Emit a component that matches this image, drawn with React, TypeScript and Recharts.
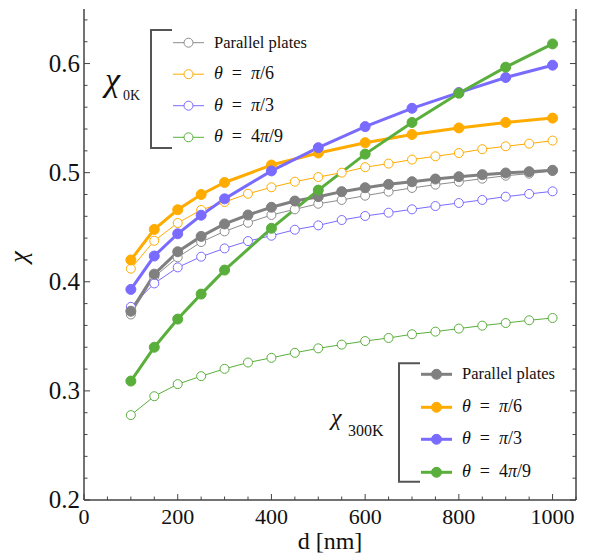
import React from 'react';
import { LineChart, Line, XAxis, YAxis } from 'recharts';

// distances (nm)
const dFine = [100, 150, 200, 250, 300, 350, 400, 450, 500, 550, 600, 650, 700, 750, 800, 850, 900, 950, 1000];
const dCoarse = [100, 150, 200, 250, 300, 400, 500, 600, 700, 800, 900, 1000];

// chi at 0 K (open markers)
const plates0K = [0.370, 0.4046, 0.4224, 0.4364, 0.4462, 0.4541, 0.4612, 0.4664, 0.4715, 0.475, 0.4789, 0.4826, 0.486, 0.489, 0.4917, 0.4945, 0.4972, 0.4991, 0.5016];
const pi6_0K = [0.412, 0.4376, 0.4539, 0.4658, 0.4731, 0.4807, 0.4866, 0.4917, 0.496, 0.500, 0.505, 0.5083, 0.512, 0.515, 0.518, 0.5215, 0.5242, 0.5266, 0.5294];
const pi3_0K = [0.377, 0.3985, 0.4132, 0.423, 0.4306, 0.4373, 0.4422, 0.4477, 0.4517, 0.4566, 0.4603, 0.4633, 0.4664, 0.4694, 0.4722, 0.475, 0.478, 0.4805, 0.4829];
const pi49_0K = [0.2778, 0.2951, 0.3062, 0.3135, 0.3202, 0.326, 0.3303, 0.3349, 0.339, 0.3424, 0.3457, 0.3485, 0.3519, 0.3543, 0.3571, 0.3598, 0.3622, 0.3647, 0.3668];

// chi at 300 K (filled markers)
const plates300K = [0.373, 0.407, 0.4275, 0.4416, 0.453, 0.4612, 0.4683, 0.474, 0.478, 0.4826, 0.4862, 0.4893, 0.4917, 0.4942, 0.4963, 0.4982, 0.4997, 0.5009, 0.5022];
const pi6_300K = [0.420, 0.448, 0.466, 0.480, 0.491, 0.507, 0.518, 0.5275, 0.535, 0.541, 0.546, 0.550];
const pi3_300K = [0.393, 0.4236, 0.444, 0.461, 0.476, 0.5016, 0.5229, 0.5422, 0.559, 0.5734, 0.5872, 0.5985];
const pi49_300K = [0.309, 0.340, 0.3658, 0.3887, 0.4107, 0.449, 0.484, 0.517, 0.546, 0.5728, 0.5967, 0.618];

const xTicks = [0, 50, 100, 150, 200, 250, 300, 350, 400, 450, 500, 550, 600, 650, 700, 750, 800, 850, 900, 950, 1000, 1050];
const xLabels = [0, 200, 400, 600, 800, 1000];
const yTicks = [0.2, 0.22, 0.24, 0.26, 0.28, 0.3, 0.32, 0.34, 0.36, 0.38, 0.4, 0.42, 0.44, 0.46, 0.48, 0.5, 0.52, 0.54, 0.56, 0.58, 0.6, 0.62, 0.64];
const yLabels = [0.2, 0.3, 0.4, 0.5, 0.6];

const GRAY = '#808080';
const GRAY_LIGHT = '#8c8c8c';
const ORANGE = '#ffab00';
const BLUE = '#7a6bff';
const GREEN = '#5aaf3c';
const FRAME = '#444';
const serif = { fontFamily: "'Liberation Serif', 'Times New Roman', Times, serif" };

const toPts = (xs: number[], ys: number[]) => xs.map((x, i) => ({ x, y: ys[i] }));

const isLabel = (v: number, list: number[]) => list.some(l => Math.abs(l - v) < 1e-6);

const BottomTick = (props: any) => {
  const { x, y, payload } = props;
  const major = isLabel(payload.value, xLabels);
  return (
    <g>
      <line x1={x} x2={x} y1={y} y2={y - (major ? 6 : 3.5)} stroke={FRAME} strokeWidth={1} />
      {major && (
        <text x={x} y={y + 24} textAnchor="middle" fontSize={22} style={serif} fill="#111">
          {payload.value}
        </text>
      )}
    </g>
  );
};

const TopTick = (props: any) => {
  const { x, y, payload } = props;
  const major = isLabel(payload.value, xLabels);
  return <line x1={x} x2={x} y1={y} y2={y + (major ? 6 : 3.5)} stroke={FRAME} strokeWidth={1} />;
};

const LeftTick = (props: any) => {
  const { x, y, payload } = props;
  const major = isLabel(payload.value, yLabels);
  return (
    <g>
      <line x1={x} x2={x + (major ? 6 : 3.5)} y1={y} y2={y} stroke={FRAME} strokeWidth={1} />
      {major && (
        <text x={x - 4} y={y + 8} textAnchor="end" fontSize={25} style={serif} fill="#111">
          {payload.value.toFixed(1)}
        </text>
      )}
    </g>
  );
};

const RightTick = (props: any) => {
  const { x, y, payload } = props;
  const major = isLabel(payload.value, yLabels);
  return <line x1={x} x2={x - (major ? 6 : 3.5)} y1={y} y2={y} stroke={FRAME} strokeWidth={1} />;
};

const openSeries = [
  { name: 'Parallel plates', color: GRAY_LIGHT, ys: plates0K },
  { name: 'pi/6', color: ORANGE, ys: pi6_0K },
  { name: 'pi/3', color: BLUE, ys: pi3_0K },
  { name: '4pi/9', color: GREEN, ys: pi49_0K },
];

const filledSeries = [
  { name: 'Parallel plates', color: GRAY, xs: dFine, ys: plates300K },
  { name: 'pi/6', color: ORANGE, xs: dCoarse, ys: pi6_300K },
  { name: 'pi/3', color: BLUE, xs: dCoarse, ys: pi3_300K },
  { name: '4pi/9', color: GREEN, xs: dCoarse, ys: pi49_300K },
];

const SP = '\u2002';
const legendLabels = [
  <tspan>Parallel plates</tspan>,
  <><tspan fontStyle="italic">θ</tspan><tspan>{SP}={SP}</tspan><tspan fontStyle="italic">π</tspan><tspan>/6</tspan></>,
  <><tspan fontStyle="italic">θ</tspan><tspan>{SP}={SP}</tspan><tspan fontStyle="italic">π</tspan><tspan>/3</tspan></>,
  <><tspan fontStyle="italic">θ</tspan><tspan>{SP}={SP}</tspan><tspan>4</tspan><tspan fontStyle="italic">π</tspan><tspan>/9</tspan></>,
];

const LegendBlock = ({ bx, top, bottom, rows, filled, colors }: any) => (
  <g>
    <polyline
      points={`${bx + 21},${top} ${bx},${top} ${bx},${bottom} ${bx + 21},${bottom}`}
      fill="none"
      stroke="#555"
      strokeWidth={2}
    />
    {rows.map((ry: number, i: number) => (
      <g key={i}>
        <line x1={bx + 22} x2={bx + 53} y1={ry} y2={ry} stroke={colors[i]} strokeWidth={filled ? 3 : 1} />
        <circle cx={bx + 37.5} cy={ry} r={filled ? 5 : 4.5} fill={filled ? colors[i] : '#fff'} stroke={colors[i]} strokeWidth={1} />
        <text x={bx + 63} y={ry + 5} fontSize={i === 0 ? 16.5 : 18} style={serif} fill="#111">
          {legendLabels[i]}
        </text>
      </g>
    ))}
  </g>
);

export default function App() {
  return (
    <div style={{ position: 'absolute', left: 0, top: 0, width: 592, height: 555, background: '#fff' }}>
      <LineChart width={592} height={555} margin={{ top: 9, right: 0, bottom: 0, left: 0 }}>
        <XAxis
          xAxisId="b"
          type="number"
          dataKey="x"
          domain={[0, 1050]}
          ticks={xTicks}
          interval={0}
          allowDataOverflow
          tickSize={0}
          tickMargin={0}
          tick={<BottomTick />}
          tickLine={false}
          axisLine={{ stroke: FRAME, strokeWidth: 1.5 }}
          height={55}
        />
        <XAxis
          xAxisId="t"
          orientation="top"
          type="number"
          dataKey="x"
          domain={[0, 1050]}
          ticks={xTicks}
          interval={0}
          allowDataOverflow
          tickSize={0}
          tickMargin={0}
          tick={<TopTick />}
          tickLine={false}
          axisLine={{ stroke: FRAME, strokeWidth: 1.5 }}
          height={0}
        />
        <YAxis
          yAxisId="l"
          type="number"
          domain={[0.2, 0.65]}
          ticks={yTicks}
          interval={0}
          allowDataOverflow
          tickSize={0}
          tickMargin={0}
          tick={<LeftTick />}
          tickLine={false}
          axisLine={{ stroke: FRAME, strokeWidth: 1.5 }}
          width={84}
        />
        <YAxis
          yAxisId="r"
          orientation="right"
          type="number"
          domain={[0.2, 0.65]}
          ticks={yTicks}
          interval={0}
          allowDataOverflow
          tickSize={0}
          tickMargin={0}
          tick={<RightTick />}
          tickLine={false}
          axisLine={{ stroke: FRAME, strokeWidth: 1.5 }}
          width={16}
        />
        {openSeries.map(s => (
          <Line
            key={'o' + s.name}
            xAxisId="b"
            yAxisId="l"
            data={toPts(dFine, s.ys)}
            dataKey="y"
            type="linear"
            stroke={s.color}
            strokeWidth={1}
            dot={{ r: 4.5, fill: '#fff', stroke: s.color, strokeWidth: 1 }}
            activeDot={false}
            isAnimationActive={false}
          />
        ))}
        {filledSeries.map(s => (
          <Line
            key={'f' + s.name}
            xAxisId="b"
            yAxisId="l"
            data={toPts(s.xs, s.ys)}
            dataKey="y"
            type="linear"
            stroke={s.color}
            strokeWidth={3}
            dot={{ r: 5, fill: s.color, stroke: s.color, strokeWidth: 1 }}
            activeDot={false}
            isAnimationActive={false}
          />
        ))}
      </LineChart>
      <svg width={592} height={555} style={{ position: 'absolute', left: 0, top: 0, pointerEvents: 'none' }}>
        <text x={330} y={549} textAnchor="middle" fontSize={24} style={serif} fill="#111">d [nm]</text>
        <text x={0} y={0} transform="translate(27,257) rotate(-90)" textAnchor="middle" fontSize={26} fontStyle="italic" style={serif} fill="#111">χ</text>

        <text x={105} y={91} fontSize={34} fontStyle="italic" style={serif} fill="#111">χ</text>
        <text x={123} y={100} fontSize={14} style={serif} fill="#111">0K</text>
        <LegendBlock bx={151} top={30} bottom={148} rows={[42.7, 74.2, 105.7, 137.3]} filled={false} colors={[GRAY_LIGHT, ORANGE, BLUE, GREEN]} />

        <text x={331} y={425} fontSize={24} fontStyle="italic" style={serif} fill="#111">χ</text>
        <text x={348} y={436} fontSize={16} style={serif} fill="#111">300K</text>
        <LegendBlock bx={399} top={363.3} bottom={481.7} rows={[374.3, 407.3, 439.3, 472.3]} filled={true} colors={[GRAY, ORANGE, BLUE, GREEN]} />
      </svg>
    </div>
  );
}
